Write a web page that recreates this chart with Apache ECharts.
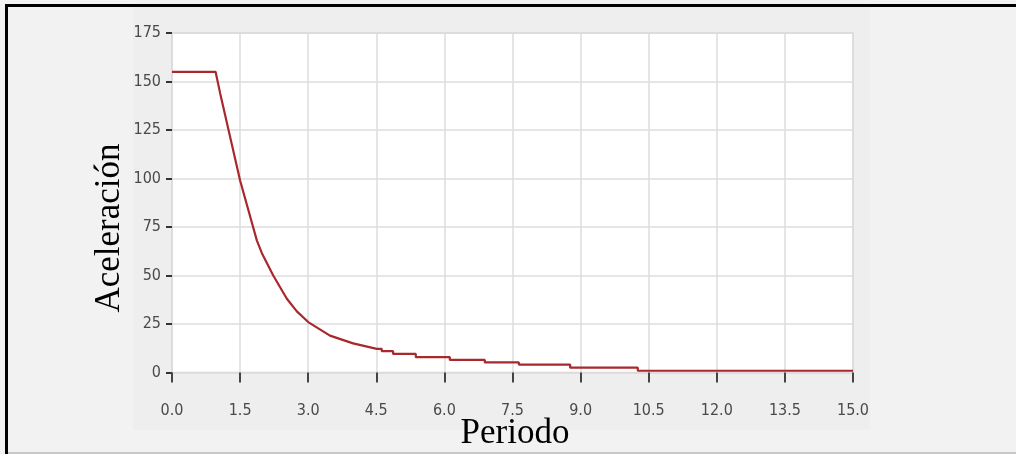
<!DOCTYPE html>
<html>
<head>
<meta charset="utf-8">
<script src="https://cdn.jsdelivr.net/npm/echarts@6/dist/echarts.min.js"></script>
<style>
  html, body { margin: 0; padding: 0; background: #f2f2f2; }
  #espectro { width: 1016px; height: 454px; }
</style>
</head>
<body>
<div id="espectro"></div>
<script>
  // valores (periodo T, aceleracion)
  const periodos = [0, 0.96, 1.06, 1.5, 1.87, 1.98, 2.23, 2.53, 2.75, 3.0, 3.48, 3.99, 4.51,
    4.62, 4.62, 4.87, 4.87, 5.37, 5.37, 6.12, 6.12, 6.89, 6.89, 7.64, 7.64,
    8.77, 8.77, 10.26, 10.26, 15.0]
  const aceleraciones = [155, 155, 144, 99, 68, 61.5, 50, 38, 31.5, 26, 19, 15, 12.2,
    12.2, 11.0, 11.0, 9.6, 9.6, 7.9, 7.9, 6.5, 6.5, 5.2, 5.2, 4.1,
    4.1, 2.5, 2.5, 0.9, 0.9]
  const ticksX = ['0.0', '1.5', '3.0', '4.5', '6.0', '7.5', '9.0', '10.5', '12.0', '13.5', '15.0']

  const fuenteEje = '"DejaVu Sans Condensed", "Liberation Sans Narrow", sans-serif'
  const fuenteTitulo = '"Liberation Serif", "Times New Roman", serif'

  const datos = []
  for (let i = 0; i < periodos.length; i++) {
    datos.push([periodos[i], aceleraciones[i]])
  }

  const chart = echarts.init(document.getElementById('espectro'))
  const option = {
    backgroundColor: '#f2f2f2',
    animation: false,
    graphic: [
      { type: 'rect', z: -10, shape: { x: 133, y: 6, width: 737, height: 424 }, style: { fill: '#eeeeee' } },
      { type: 'rect', z: 10, shape: { x: 5, y: 4, width: 1011, height: 3 }, style: { fill: '#000' } },
      { type: 'rect', z: 10, shape: { x: 5, y: 4, width: 3, height: 450 }, style: { fill: '#000' } },
      { type: 'rect', z: 10, shape: { x: 8, y: 452, width: 1008, height: 2 }, style: { fill: '#c8c8c8' } },
      {
        type: 'text', z: 20, x: 110, y: 228, rotation: Math.PI / 2,
        style: { text: 'Aceleración', font: '35px ' + fuenteTitulo, fill: '#000', align: 'center', verticalAlign: 'middle' }
      },
      {
        type: 'text', z: 20, x: 515, y: 434,
        style: { text: 'Periodo', font: '35px ' + fuenteTitulo, fill: '#000', align: 'center', verticalAlign: 'middle' }
      }
    ],
    grid: {
      left: 172,
      top: 33,
      right: 163,
      bottom: 81.5,
      show: true,
      backgroundColor: '#ffffff',
      borderColor: '#d6d6d6',
      borderWidth: 1.5
    },
    xAxis: {
      type: 'value',
      min: 0,
      max: 15,
      interval: 1.5,
      offset: 4,
      axisLine: { show: false },
      axisTick: { show: true, length: 10, lineStyle: { color: '#444', width: 2 } },
      axisLabel: {
        margin: 26,
        color: '#4a4a4a',
        fontSize: 16,
        fontFamily: fuenteEje,
        formatter: function (v) {
          const idx = Math.round(v / 1.5)
          return ticksX[idx]
        }
      },
      splitLine: { show: true, lineStyle: { color: '#dcdcdc', width: 1.5 } }
    },
    yAxis: {
      type: 'value',
      min: 0,
      max: 175,
      interval: 25,
      offset: 3,
      axisLine: { show: false },
      axisTick: { show: true, length: 6, lineStyle: { color: '#333', width: 2 } },
      axisLabel: { margin: 8, color: '#4a4a4a', fontSize: 16, fontFamily: fuenteEje },
      splitLine: { show: true, lineStyle: { color: '#dcdcdc', width: 1.5 } }
    },
    series: [
      {
        name: 'Aceleración',
        type: 'line',
        data: datos,
        showSymbol: false,
        symbol: 'none',
        smooth: false,
        lineStyle: { color: '#a8282c', width: 2.2 },
        z: 5
      }
    ]
  }
  chart.setOption(option)
</script>
</body>
</html>
